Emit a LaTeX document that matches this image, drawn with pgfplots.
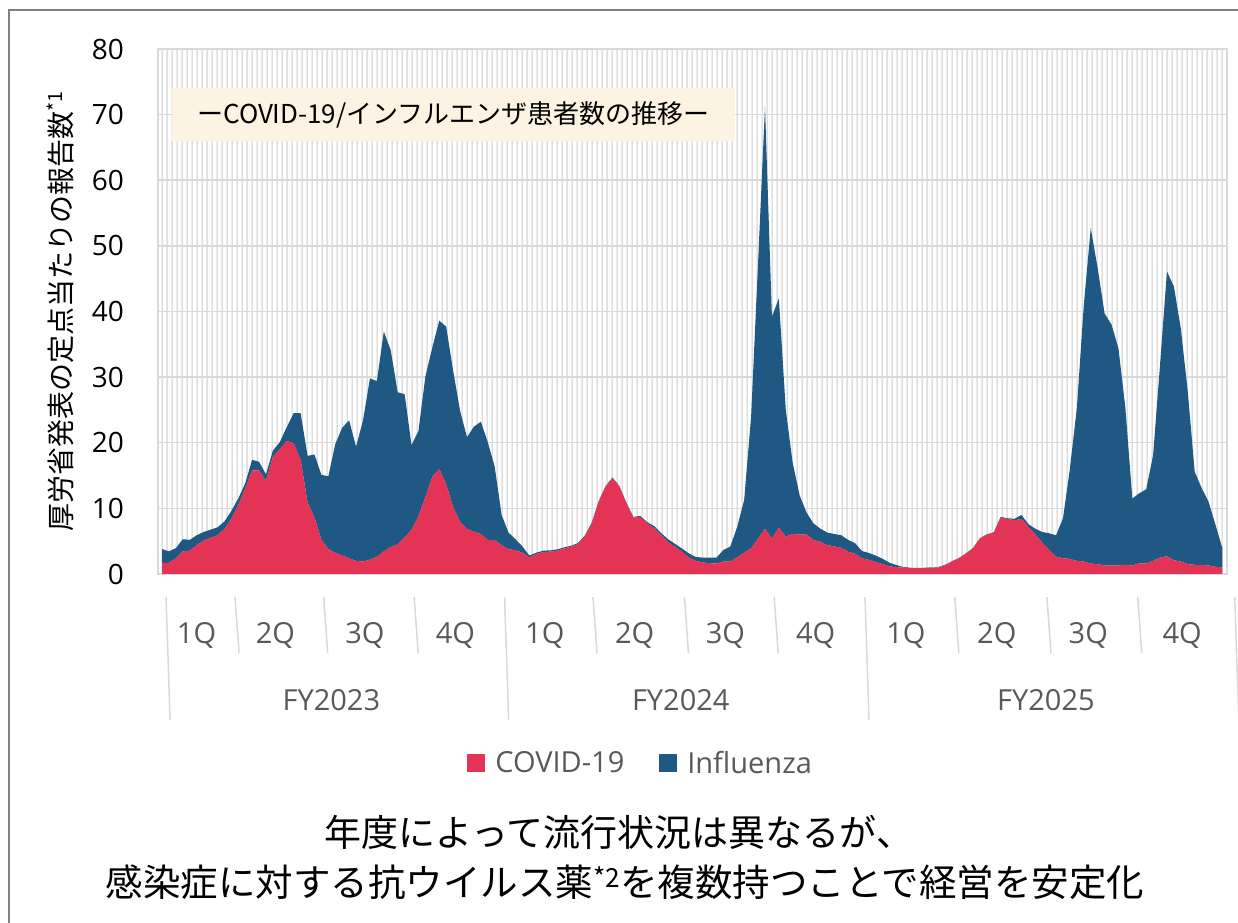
\documentclass[border=0pt]{standalone}
\usepackage{fontspec}
\setmainfont{Open Sans}
\newfontfamily\jp{Noto Sans CJK JP}
\usepackage{pgfplots}
\usepackage{pgfplotstable}
\pgfplotsset{compat=1.18}
\usetikzlibrary{patterns}
\definecolor{covid}{RGB}{227,52,85}
\definecolor{flu}{RGB}{31,88,130}
\definecolor{gridc}{RGB}{217,217,217}
\definecolor{patc}{RGB}{205,205,205}
\definecolor{lblc}{RGB}{89,89,89}
\definecolor{boxc}{RGB}{253,243,226}
\definecolor{framec}{RGB}{128,128,128}
\pgfdeclarepatternformonly{vstripes}{\pgfqpoint{0pt}{0pt}}{\pgfqpoint{4.6pt}{10pt}}{\pgfqpoint{4.6pt}{10pt}}{%
  \pgfsetlinewidth{1.3pt}\pgfpathmoveto{\pgfqpoint{2.3pt}{0pt}}\pgfpathlineto{\pgfqpoint{2.3pt}{10pt}}\pgfusepath{stroke}}

\pgfplotstableread{
k covid flu
0 1.7 2.1
1 1.7 1.75
2 2.4 1.55
3 3.45 1.85
4 3.55 1.65
5 4.4 1.5
6 5.1 1.3
7 5.5 1.25
8 5.9 1.2
9 6.85 1.15
10 8.4 1.2
11 10.5 1.0
12 13.0 0.8
13 15.8 1.6
14 15.8 1.3
15 14.2 1.0
16 17.9 0.9
17 19.0 1.1
18 20.3 2.1
19 19.9 4.6
20 17.4 7.1
21 10.9 7.1
22 8.6 9.6
23 5.2 9.9
24 3.8 11.1
25 3.2 16.6
26 2.8 19.5
27 2.4 21.0
28 2.0 17.4
29 1.9 21.5
30 2.2 27.6
31 2.6 26.8
32 3.45 33.5
33 4.1 30.0
34 4.5 23.2
35 5.6 21.8
36 6.75 12.9
37 8.8 13.0
38 11.7 18.4
39 14.8 19.7
40 16.0 22.6
41 13.7 24.0
42 10.2 20.8
43 8.0 16.9
44 6.85 14.0
45 6.45 16.0
46 6.1 17.1
47 5.2 14.9
48 5.15 11.2
49 4.4 4.6
50 3.75 2.55
51 3.65 1.65
52 3.25 0.95
53 2.5 0.3
54 3.05 0.2
55 3.35 0.2
56 3.4 0.2
57 3.55 0.2
58 3.9 0.15
59 4.15 0.15
60 4.55 0.15
61 5.7 0.15
62 7.7 0.15
63 11.0 0.1
64 13.3 0.1
65 14.6 0.1
66 13.3 0.1
67 10.8 0.1
68 8.6 0.1
69 8.7 0.15
70 7.7 0.2
71 7.0 0.3
72 5.9 0.35
73 4.9 0.4
74 4.15 0.45
75 3.4 0.5
76 2.5 0.65
77 2.0 0.6
78 1.75 0.75
79 1.65 0.85
80 1.6 0.9
81 1.9 1.75
82 1.9 2.3
83 2.55 4.65
84 3.25 8.05
85 3.9 20.1
86 5.4 42.0
87 6.9 64.3
88 5.4 33.8
89 7.1 34.9
90 5.7 19.3
91 6.1 10.8
92 6.0 6.0
93 6.0 3.35
94 5.2 2.5
95 4.9 2.0
96 4.4 1.9
97 4.2 1.9
98 4.0 1.9
99 3.4 1.8
100 3.1 1.6
101 2.4 1.1
102 2.15 1.05
103 1.8 1.0
104 1.5 0.8
105 1.15 0.55
106 1.05 0.3
107 0.96 0.1
108 0.9 0.05
109 0.9 0.05
110 0.9 0.05
111 0.96 0.05
112 1.0 0.05
113 1.37 0.05
114 1.9 0.05
115 2.4 0.05
116 3.1 0.05
117 3.9 0.05
118 5.4 0.05
119 6.0 0.05
120 6.3 0.05
121 8.6 0.1
122 8.4 0.1
123 8.2 0.2
124 8.4 0.6
125 7.2 0.4
126 6.0 0.9
127 4.8 1.6
128 3.7 2.5
129 2.65 3.25
130 2.4 6.1
131 2.3 13.8
132 2.0 23.3
133 1.9 39.1
134 1.6 51.1
135 1.5 45.1
136 1.3 38.4
137 1.3 36.7
138 1.3 33.1
139 1.4 23.9
140 1.3 10.2
141 1.6 10.7
142 1.6 11.3
143 2.0 16.1
144 2.5 29.4
145 2.7 43.4
146 2.1 41.7
147 1.9 35.5
148 1.5 26.3
149 1.4 14.2
150 1.4 11.7
151 1.3 9.7
152 1.1 6.4
153 1.0 2.9
}\datatable

\newcommand{\qsep}[1]{\draw[gridc, line width=1.5bp] (axis cs:#1,0) ++(0,-23bp) -- ++(0,-56bp);}
\newcommand{\ysep}[1]{\draw[gridc, line width=1.5bp] (axis cs:#1,0) ++(0,-23bp) -- ++(0,-123bp);}
\newcommand{\qlab}[2]{\node[qlab] at (axis cs:#1,0) [yshift=-70bp] {#2};}
\newcommand{\flab}[2]{\node[qlab] at (axis cs:#1,0) [yshift=-136bp] {#2};}

\begin{document}
\begin{tikzpicture}[qlab/.style={font=\fontsize{29bp}{32bp}\selectfont, text=lblc, anchor=base, inner sep=0pt}]
\path[use as bounding box] (0,0) rectangle (1238bp,923bp);
\begin{axis}[
  at={(158bp,349bp)}, anchor=south west,
  scale only axis, width=1069bp, height=525bp,
  xmin=-0.58, xmax=153.66, ymin=0, ymax=80,
  ytick={0,10,...,80}, xtick=\empty,
  ymajorgrids, grid style={gridc, line width=1.5bp},
  axis line style={gridc, line width=1.5bp},
  axis background/.style={pattern=vstripes, pattern color=patc},
  major tick length=0pt,
  /pgf/number format/assume math mode=true,
  yticklabel style={font=\fontsize{28bp}{30bp}\selectfont, text=black, anchor=east, inner sep=0pt, xshift=-34bp},
  stack plots=y,
  clip=false,
  legend columns=2,
  legend style={at={(0.451,-0.36)}, anchor=center, draw=none, fill=none,
    font=\fontsize{29bp}{32bp}\selectfont, text=lblc,
    /tikz/every odd column/.append style={column sep=9bp},
    /tikz/every even column/.append style={column sep=34bp},
    nodes={inner sep=1bp}},
  legend image code/.code={\fill[#1] (0bp,-9bp) rectangle (18bp,9bp);},
]
\addplot[fill=covid, draw=none] table[x=k, y=covid]{\datatable} \closedcycle;
\addlegendentry{COVID-19}
\addplot[fill=flu, draw=none] table[x=k, y=flu]{\datatable} \closedcycle;
\addlegendentry{Influenza}
\ysep{0}\qsep{9.95}\qsep{22.75}\qsep{35.8}\ysep{48.85}\qsep{61.6}\qsep{74.8}\qsep{87.75}\ysep{100.85}\qsep{113.8}\qsep{127.1}\qsep{140.2}\ysep{154.2}
\qlab{4.98}{1Q}\qlab{16.35}{2Q}\qlab{29.28}{3Q}\qlab{42.33}{4Q}
\qlab{55.23}{1Q}\qlab{68.2}{2Q}\qlab{81.28}{3Q}\qlab{94.3}{4Q}
\qlab{107.33}{1Q}\qlab{120.45}{2Q}\qlab{133.65}{3Q}\qlab{147.2}{4Q}
\flab{24.43}{FY2023}\flab{74.85}{FY2024}\flab{127.53}{FY2025}
\end{axis}
\node[fill=boxc, minimum width=563bp, minimum height=53bp, inner sep=0pt,
  font=\jp\fontsize{26bp}{30bp}\selectfont, text=black] at (453.5bp,808.5bp) {ーCOVID-19/インフルエンザ患者数の推移ー};
\node[rotate=90, font=\jp\fontsize{28bp}{30bp}\selectfont, text=black, inner sep=0pt] at (60bp,612bp) {厚労省発表の定点当たりの報告数\textsuperscript{*1}};
\node[font=\jp\fontsize{37bp}{40bp}\selectfont, text=black, inner sep=0pt] at (619bp,91bp) {年度によって流行状況は異なるが、};
\node[font=\jp\fontsize{37.5bp}{40bp}\selectfont, text=black, inner sep=0pt] at (625bp,41bp) {感染症に対する抗ウイルス薬\textsuperscript{*2}を複数持つことで経営を安定化};
\draw[framec, line width=2bp] (9bp,0bp) -- (9bp,913bp) -- (1238bp,913bp);
\end{tikzpicture}
\end{document}
